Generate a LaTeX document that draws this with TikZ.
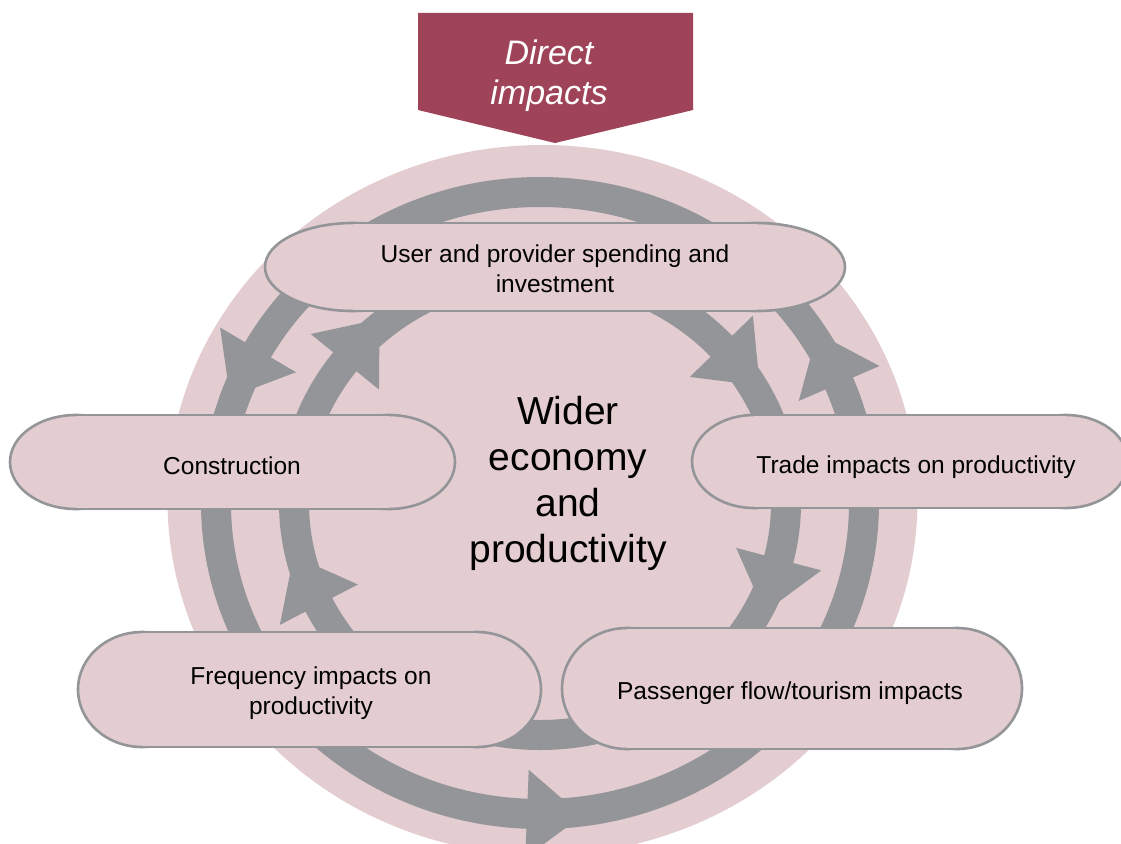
\documentclass[tikz,border=0pt]{standalone}
\usepackage{fontspec}
\setmainfont{Liberation Sans}
\definecolor{pinkbg}{RGB}{227,205,208}
\definecolor{ringgray}{RGB}{147,149,152}
\definecolor{darkred}{RGB}{159,67,88}
\tikzset{
  ringband/.style={draw=ringgray, line width=30pt},
  capfill/.style={fill=pinkbg},
  capline/.style={draw=ringgray, line width=2.6pt},
  lbl/.style={font=\fontsize{24.5}{30}\selectfont, align=center, text=black, inner sep=0pt},
  bigtxt/.style={font=\fontsize{39}{46}\selectfont, align=center, text=black, inner sep=0pt},
  dirtxt/.style={font=\itshape\fontsize{34}{40}\selectfont, align=center, text=white, inner sep=0pt}
}
\newcommand\ringhead[6]{%
  \pgfmathsetmacro\hpx{#1+#3*cos(#5)}%
  \pgfmathsetmacro\hpy{#2+#4*sin(#5)}%
  \pgfmathsetmacro\htx{-(#6)*#3*sin(#5)/100}%
  \pgfmathsetmacro\hty{(#6)*#4*cos(#5)/100}%
  \pgfmathsetmacro\hn{sqrt(\htx*\htx+\hty*\hty)}%
  \pgfmathsetmacro\hux{\htx/\hn}%
  \pgfmathsetmacro\huy{\hty/\hn}%
  \fill[ringgray] ({\hpx+44*\huy},{\hpy-44*\hux}) -- ({\hpx+55*\hux},{\hpy+55*\huy}) -- ({\hpx-44*\huy},{\hpy+44*\hux}) -- cycle;
}
\newcommand\capsule[5]{%
  \pgfmathsetmacro\cry{(#4-#2)/2}%
  \pgfmathsetmacro\cmy{(#4+#2)/2}%
  \path[capfill,capline] (#1+#5,\cmy) ellipse [x radius=#5pt, y radius=\cry pt];
  \path[capfill,capline] (#3-#5,\cmy) ellipse [x radius=#5pt, y radius=\cry pt];
  \fill[pinkbg] (#1+#5,#2) rectangle (#3-#5,#4);
  \draw[capline] (#1+#5,#2) -- (#3-#5,#2);
  \draw[capline] (#1+#5,#4) -- (#3-#5,#4);
}
\begin{document}
\begin{tikzpicture}[x=1pt,y=-1pt]
\useasboundingbox (0,0) rectangle (1121,843);
% background disc
\fill[pinkbg] (542.5,500) ellipse [x radius=375pt, y radius=355pt];
% rings
\draw[ringband] (540,503) ellipse [x radius=324pt, y radius=311pt];
\draw[ringband] (540,503) ellipse [x radius=246pt, y radius=232pt];
% outer ring heads (counter-clockwise on screen)
\ringhead{540}{503}{324}{311}{209.5}{-1}
\ringhead{540}{503}{324}{311}{337.4}{-1}
\ringhead{540}{503}{324}{311}{92.3}{-1}
% inner ring heads (clockwise on screen)
\ringhead{540}{503}{246}{232}{217.5}{1}
\ringhead{540}{503}{246}{232}{317.5}{1}
\ringhead{540}{503}{246}{232}{14}{1}
\ringhead{540}{503}{246}{232}{154}{1}
% capsules
\capsule{265}{223}{845}{311}{88}
\node[lbl] (user) at (555,269) {User and provider spending and\\investment};
\capsule{10}{415}{455}{509}{66}
\node[lbl] (con) at (232,466) {Construction};
\capsule{692}{415}{1128}{508}{62}
\node[lbl] (trade) at (916,467) {Trade impacts on productivity};
\capsule{78}{632}{541}{747}{64}
\node[lbl] (freq) at (311,693) {Frequency impacts on\\productivity};
\capsule{562}{628}{1022}{749}{65}
\node[lbl] (pass) at (790,693) {Passenger flow/tourism impacts};
% direct impacts banner
\fill[darkred] (418,13) -- (693,13) -- (693,110) -- (555,143) -- (418,110) -- cycle;
\node[dirtxt] (direct) at (549,76) {Direct\\impacts};
% centre text
\node[bigtxt] (wider) at (568,483) {Wider\\economy\\and\\productivity};
\end{tikzpicture}
\end{document}
